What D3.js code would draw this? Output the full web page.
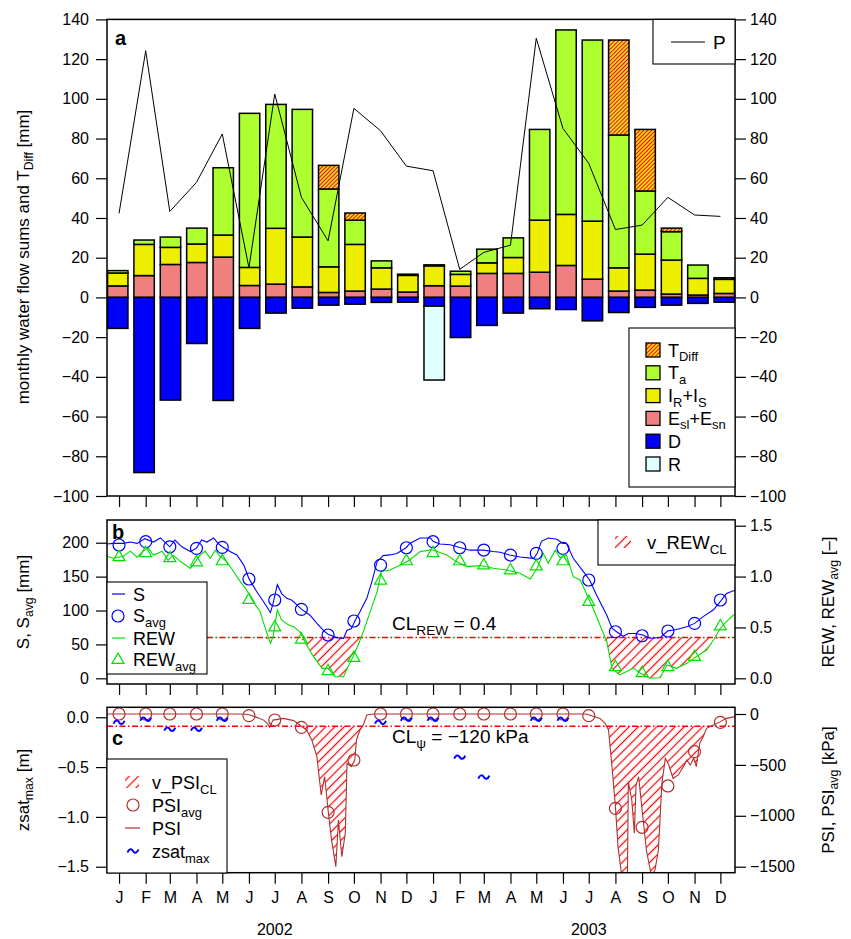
<!DOCTYPE html>
<html>
<head>
<meta charset="utf-8">
<script src="https://cdn.jsdelivr.net/npm/d3@7"></script>
<style>
  body { margin: 0; background: #fff; }
  text { font-family: "Liberation Sans", Arial, sans-serif; }
</style>
</head>
<body>
<script>
// ---- data (monthly, Jan 2002 .. Dec 2003) ----
const monthLabels = ['J','F','M','A','M','J','J','A','S','O','N','D','J','F','M','A','M','J','J','A','S','O','N','D'];
const yearLabels = ['2002', '2003'];

// panel a, mm per month
const evap      = [5.8, 11, 16.6, 17.6, 20.3, 6, 6.7, 5.3, 2.5, 3.2, 4.2, 2.7, 5.9, 5.7, 12.1, 12.1, 12.7, 16.1, 9.2, 3.2, 3.7, 1.7, 1.2, 2];
const intercept = [6.5, 15.7, 8.6, 9.3, 11.1, 9.1, 28.1, 25.1, 12.9, 23.5, 10.7, 8.4, 10, 5.9, 5.3, 8, 26.2, 25.7, 29.2, 11.7, 18.1, 17.1, 8.4, 7.1];
const transp    = [1.2, 2.2, 5.2, 8, 33.9, 77.6, 62.4, 64.3, 39.2, 12.2, 3.5, 0.6, 0.5, 1.6, 6.9, 9.9, 45.7, 92.9, 91.2, 66.9, 31.8, 14.3, 6.7, 0.8];
const tDiff     = [0, 0, 0, 0, 0, 0, 0, 0, 11.9, 3.6, 0, 0, 0, 0, 0, 0, 0, 0, 0, 47.8, 31, 1.8, 0, 0];
const drainage  = [15.6, 88.2, 51.7, 23.2, 51.9, 15.6, 7.9, 5.4, 3.9, 3.4, 2.5, 2.4, 4.4, 20.2, 14.1, 7.9, 5.7, 6.1, 11.8, 7.6, 5, 3.9, 3, 2.4];
const runoff    = [0, 0, 0, 0, 0, 0, 0, 0, 0, 0, 0, 0, 37.2, 0, 0, 0, 0, 0, 0, 0, 0, 0, 0, 0];
const precip    = [42.3, 124.2, 43.3, 57.9, 82.3, 14.9, 102.4, 50.4, 28.5, 95.2, 83.9, 66.1, 63.8, 14.1, 22.7, 26.3, 130.5, 85.1, 67.5, 34.2, 36.4, 50.4, 41.5, 40.8];

// panel b, monthly averages
const sAvg   = [196.6, 201.5, 194, 191.7, 193.2, 146.5, 115.5, 101.7, 63.9, 84.5, 167, 192.6, 201.5, 192.6, 189.2, 181.8, 184.3, 191.7, 145, 68.7, 62.8, 69.8, 81, 115.5];
const rewAvg = [1.19, 1.23, 1.18, 1.14, 1.15, 0.77, 0.5, 0.38, 0.07, 0.2, 0.96, 1.15, 1.23, 1.15, 1.11, 1.06, 1.1, 1.15, 0.75, 0.11, 0.05, 0.11, 0.21, 0.51];
const rewLimit = 0.4;

// panel b, daily series as [day since 2002-01-01, value]
const sLine = [[0,198],[7,199],[19,199],[27,201],[35,199],[44,206],[54,201],[62,207],[73,194],[79,204],[87,194],[97,187],[104,192],[110,204],[116,201],[124,207],[129,199],[134,194],[143,187],[151,182],[159,167],[165,147],[174,128],[182,113],[190,97],[193,110],[198,138],[203,125],[209,118],[215,115],[221,108],[226,102],[236,93],[244,81],[252,70],[257,65],[267,60],[275,59],[279,71],[284,73],[288,84],[294,98],[302,118],[308,143],[314,172],[321,181],[329,182],[337,184],[348,193],[352,199],[364,207],[376,207],[379,202],[387,198],[399,197],[410,193],[422,189],[437,189],[449,187],[457,186],[468,182],[480,179],[496,177],[500,184],[505,202],[513,207],[523,205],[530,199],[534,199],[542,177],[554,157],[561,145],[569,123],[581,93],[587,74],[592,69],[600,62],[606,66],[614,66],[623,64],[631,59],[643,60],[652,70],[662,72],[674,76],[683,81],[693,91],[705,101],[714,115],[720,125],[730,130]];
const rewLine = [[0,1.2],[7,1.18],[19,1.2],[27,1.25],[35,1.19],[42,1.25],[48,1.28],[54,1.21],[64,1.25],[71,1.16],[77,1.21],[85,1.15],[97,1.08],[108,1.21],[114,1.25],[120,1.18],[126,1.26],[131,1.2],[139,1.15],[147,1.05],[155,0.95],[162,0.87],[170,0.75],[178,0.655],[184,0.49],[190,0.344],[193,0.41],[198,0.672],[203,0.573],[211,0.524],[217,0.508],[224,0.459],[232,0.327],[240,0.213],[250,0.098],[257,0.098],[265,0.016],[275,0.016],[281,0.131],[286,0.213],[292,0.327],[298,0.459],[306,0.655],[314,0.852],[319,1.049],[329,1.065],[341,1.114],[352,1.163],[364,1.245],[376,1.261],[379,1.261],[395,1.212],[406,1.147],[418,1.098],[434,1.108],[449,1.081],[465,1.065],[480,1.032],[492,0.977],[500,1.081],[507,1.228],[513,1.131],[521,1.261],[527,1.18],[534,1.212],[542,0.999],[550,0.966],[558,0.819],[565,0.688],[573,0.524],[581,0.36],[587,0.098],[596,0.033],[604,0.066],[612,0.098],[620,0.049],[631,0],[643,0.006],[651,0.131],[662,0.098],[674,0.147],[685,0.213],[697,0.278],[705,0.377],[713,0.492],[720,0.557],[729,0.629]];

// panel c
const psiAvg = [0, 0, 0, 0, 0, -16, -59, -131, -966, -452, 0, 0, 0, 0, 0, 0, 0, 0, -16, -927, -1113, -707, -370, -82];
const zsatMax = [-0.05, -0.02, -0.12, -0.12, -0.02, null, null, null, null, null, -0.05, -0.02, -0.02, -0.40, -0.60, null, -0.02, -0.02, null, null, null, null, null, null];
const psiLimit = -120;
const psiLine = [[0,0],[150,0],[162,-3],[166,-10],[174,-33],[182,-60],[187,-100],[189,-131],[193,-60],[205,-43],[217,-65],[224,-108],[232,-157],[238,-255],[244,-419],[249,-796],[253,-616],[257,-943],[261,-1238],[266,-1500],[269,-1041],[273,-1402],[277,-1172],[279,-485],[284,-517],[288,-452],[290,-255],[294,-157],[298,-108],[302,-10],[310,0],[557,0],[573,-43],[579,-92],[583,-157],[587,-517],[591,-910],[594,-1303],[598,-1565],[602,-1600],[605,-1565],[606,-665],[610,-845],[613,-1172],[615,-698],[618,-616],[622,-943],[627,-1336],[633,-1600],[637,-1532],[641,-1336],[645,-681],[649,-435],[653,-501],[658,-632],[664,-599],[670,-517],[674,-452],[678,-501],[682,-435],[685,-517],[689,-288],[693,-223],[697,-141],[705,-108],[713,-75],[720,-43],[730,-26]];

// ---- setup ----
const svg = d3.select('body').append('svg')
  .attr('width', 851)
  .attr('height', 939);

const L = 107, R = 735;
const day = d => new Date(Date.UTC(2002, 0, 1) + d * 864e5);
const mid = i => new Date(Date.UTC(2002, i, 15));
const mids = d3.range(24).map(mid);

const x = d3.scaleUtc()
  .domain([Date.UTC(2002, 0, 1), Date.UTC(2004, 0, 1)])
  .range([L, R]);
const xb = d3.scaleBand()
  .domain(d3.range(24))
  .range([L, R])
  .paddingInner(0.226)
  .paddingOuter(0.02);

const ya = d3.scaleLinear().domain([-100, 140]).range([496, 19.4]);
const yS = d3.scaleLinear().domain([-8.4, 233.5]).range([684, 520]);
const yR = d3.scaleLinear().domain([-0.056, 1.556]).range([684, 520]);
const yZ = d3.scaleLinear().domain([-1.56, 0.1]).range([872.7, 707.3]);
const yP = d3.scaleLinear().domain([-1559, 65.8]).range([872.7, 707.3]);

const defs = svg.append('defs');
function hatch(id, size, width, bg) {
  const p = defs.append('pattern')
    .attr('id', id)
    .attr('patternUnits', 'userSpaceOnUse')
    .attr('width', size).attr('height', size)
    .attr('patternTransform', 'rotate(45)');
  if (bg) p.append('rect').attr('width', size).attr('height', size).attr('fill', bg);
  p.append('line')
    .attr('x1', size / 2).attr('y1', 0).attr('x2', size / 2).attr('y2', size)
    .attr('stroke', '#ff0000').attr('stroke-width', width);
}
hatch('hatchT', 2.8, 1, '#e8e020');
hatch('hatchR', 6.5, 1.2);

function clip(id, y0, y1) {
  defs.append('clipPath').attr('id', id)
    .append('rect').attr('x', L).attr('y', y0).attr('width', R - L).attr('height', y1 - y0);
}
clip('clipB', 520, 684);
clip('clipC', 707.3, 872.7);

// tilde marker for zsat_max
const tilde = 'M-5.5,1.5 C-4,-2.5 -1.5,-2.5 0,0 S4,2.5 5.5,-1.5';

// text with subscripts: parts beginning with '_' are subscript
function rich(sel, parts, size) {
  let sub = false;
  const shift = size * 0.25;
  parts.forEach(p => {
    const isSub = p.startsWith('_');
    const t = sel.append('tspan').text(isSub ? p.slice(1) : p);
    if (isSub) t.attr('font-size', size * 0.72);
    if (isSub && !sub) t.attr('dy', shift);
    if (!isSub && sub) t.attr('dy', -shift);
    sub = isSub;
  });
  return sel;
}
function label(px, py, parts, size, anchor) {
  const t = svg.append('text')
    .attr('x', px).attr('y', py)
    .attr('font-size', size)
    .attr('text-anchor', anchor || 'start');
  return rich(t, parts, size);
}

function styleAxis(g, size) {
  g.select('.domain').remove();
  g.selectAll('line').attr('stroke', '#000').attr('stroke-width', 1.2);
  g.selectAll('text').attr('font-size', size || 16).attr('fill', '#000')
    .style('font-family', '"Liberation Sans", Arial, sans-serif');
}
function yAxes(yl, vl, fl, yr, vr, fr) {
  svg.append('g').attr('transform', `translate(${L},0)`)
    .call(d3.axisLeft(yl).tickValues(vl).tickFormat(fl).tickSize(11).tickPadding(7))
    .call(styleAxis);
  svg.append('g').attr('transform', `translate(${R},0)`)
    .call(d3.axisRight(yr).tickValues(vr).tickFormat(fr).tickSize(11).tickPadding(4))
    .call(styleAxis);
}
function xTicks(y0, labels) {
  svg.append('g').attr('transform', `translate(0,${y0})`)
    .call(d3.axisBottom(x).tickValues(mids)
      .tickFormat((d, i) => labels ? monthLabels[i] : '')
      .tickSize(11).tickPadding(8))
    .call(styleAxis);
}
function frame(y0, y1) {
  svg.append('rect')
    .attr('x', L).attr('y', y0).attr('width', R - L).attr('height', y1 - y0)
    .attr('fill', 'none').attr('stroke', '#000').attr('stroke-width', 1.5);
}
function box(x0, y0, x1, y1) {
  svg.append('rect')
    .attr('x', x0).attr('y', y0).attr('width', x1 - x0).attr('height', y1 - y0)
    .attr('fill', '#fff').attr('stroke', '#000').attr('stroke-width', 1.1);
}

// ---- panel a: stacked bars + precipitation ----
const keys = ['esl', 'irs', 'ta', 'td', 'd', 'r'];
const fills = { esl: '#f08080', irs: '#eeee00', ta: '#adff2f', td: 'url(#hatchT)', d: '#0000ff', r: '#e0ffff' };
const rows = d3.range(24).map(i => ({
  esl: evap[i], irs: intercept[i], ta: transp[i], td: tDiff[i], d: -drainage[i], r: -runoff[i]
}));
const stacked = d3.stack().keys(keys).offset(d3.stackOffsetDiverging)(rows);

stacked.forEach(series => {
  svg.append('g')
    .selectAll('rect')
    .data(series.map((d, i) => ({ i, y0: d[0], y1: d[1] })).filter(d => d.y1 !== d.y0))
    .enter()
    .append('rect')
    .attr('x', d => xb(d.i))
    .attr('width', xb.bandwidth())
    .attr('y', d => ya(d.y1))
    .attr('height', d => ya(d.y0) - ya(d.y1))
    .attr('fill', fills[series.key])
    .attr('stroke', '#000')
    .attr('stroke-width', 1.5);
});

svg.append('path')
  .datum(precip)
  .attr('d', d3.line().x((d, i) => x(mid(i))).y(d => ya(d)))
  .attr('fill', 'none')
  .attr('stroke', '#000')
  .attr('stroke-width', 1);

frame(19.4, 496);
yAxes(ya, d3.range(-100, 141, 20), d3.format('d'), ya, d3.range(-100, 141, 20), d3.format('d'));
xTicks(496, false);

svg.append('text').attr('x', 115).attr('y', 45)
  .attr('font-size', 20).attr('font-weight', 'bold').text('a');

// legend P
box(653, 19.4, R, 64);
svg.append('line').attr('x1', 671).attr('x2', 705).attr('y1', 42).attr('y2', 42)
  .attr('stroke', '#000').attr('stroke-width', 1);
label(713, 49, ['P'], 19);

// legend bars
box(629, 328, R, 487);
const legA = [
  ['td', ['T', '_Diff']],
  ['ta', ['T', '_a']],
  ['irs', ['I', '_R', '+I', '_S']],
  ['esl', ['E', '_sl', '+E', '_sn']],
  ['d', ['D']],
  ['r', ['R']]
];
legA.forEach(([k, parts], j) => {
  const cy = 350 + j * 22.8;
  svg.append('rect').attr('x', 646).attr('y', cy - 7).attr('width', 14).attr('height', 14)
    .attr('fill', fills[k]).attr('stroke', '#000').attr('stroke-width', 1.3);
  label(668, cy + 6.5, parts, 18);
});

// axis titles
function vtitle(px, py, parts) {
  const t = svg.append('text')
    .attr('transform', `translate(${px},${py}) rotate(-90)`)
    .attr('font-size', 17)
    .attr('text-anchor', 'middle');
  rich(t, parts, 17);
}
vtitle(29, 257, ['monthly water flow sums and T', '_Diff', ' [mm]']);

// ---- panel b ----
const gb = svg.append('g').attr('clip-path', 'url(#clipB)');
gb.append('path')
  .datum(rewLine)
  .attr('d', d3.area()
    .x(d => x(day(d[0])))
    .y0(yR(rewLimit))
    .y1(d => yR(Math.min(d[1], rewLimit))))
  .attr('fill', 'url(#hatchR)');
gb.append('line')
  .attr('x1', L).attr('x2', R).attr('y1', yR(rewLimit)).attr('y2', yR(rewLimit))
  .attr('stroke', '#ff0000').attr('stroke-width', 1.5).attr('stroke-dasharray', '6,2.5,1.5,2.5');
gb.append('path')
  .datum(sLine)
  .attr('d', d3.line().x(d => x(day(d[0]))).y(d => yS(d[1])))
  .attr('fill', 'none').attr('stroke', '#0000ff').attr('stroke-width', 1.1);
gb.append('path')
  .datum(rewLine)
  .attr('d', d3.line().x(d => x(day(d[0]))).y(d => yR(d[1])))
  .attr('fill', 'none').attr('stroke', '#00e000').attr('stroke-width', 1.1);
gb.selectAll('circle.savg')
  .data(sAvg)
  .enter()
  .append('circle')
  .attr('cx', (d, i) => x(mid(i)))
  .attr('cy', d => yS(d))
  .attr('r', 6)
  .attr('fill', 'none').attr('stroke', '#0000ff').attr('stroke-width', 1.2);
const tri = d3.symbol(d3.symbolTriangle).size(62);
gb.selectAll('path.ravg')
  .data(rewAvg)
  .enter()
  .append('path')
  .attr('d', tri)
  .attr('transform', (d, i) => `translate(${x(mid(i))},${yR(d)})`)
  .attr('fill', 'none').attr('stroke', '#00e000').attr('stroke-width', 1.2);

label(392, 630, ['CL', '_REW', ' = 0.4'], 19);

frame(520, 684);
yAxes(yS, [0, 50, 100, 150, 200], d3.format('d'), yR, [0, 0.5, 1, 1.5], d3.format('.1f'));
xTicks(684, false);
svg.append('text').attr('x', 112).attr('y', 539)
  .attr('font-size', 20).attr('font-weight', 'bold').text('b');

// legend b left
box(107, 582, 207, 674);
svg.append('line').attr('x1', 112).attr('x2', 125).attr('y1', 594).attr('y2', 594)
  .attr('stroke', '#0000ff').attr('stroke-width', 1.2);
svg.append('circle').attr('cx', 118).attr('cy', 616).attr('r', 6)
  .attr('fill', 'none').attr('stroke', '#0000ff').attr('stroke-width', 1.2);
svg.append('line').attr('x1', 112).attr('x2', 125).attr('y1', 638).attr('y2', 638)
  .attr('stroke', '#00e000').attr('stroke-width', 1.2);
svg.append('path').attr('d', tri).attr('transform', 'translate(118,660)')
  .attr('fill', 'none').attr('stroke', '#00e000').attr('stroke-width', 1.2);
label(133, 601, ['S'], 18);
label(133, 622, ['S', '_avg'], 18);
label(133, 645, ['REW'], 18);
label(133, 666, ['REW', '_avg'], 18);

// legend b right
box(598, 520, R, 565);
svg.append('rect').attr('x', 615).attr('y', 536).attr('width', 16).attr('height', 12)
  .attr('fill', 'url(#hatchR)');
label(647, 549, ['v_REW', '_CL'], 18.5);

vtitle(29, 602, ['S, S', '_avg', ' [mm]']);
vtitle(834, 602, ['REW, REW', '_avg', ' [\u2013]']);

// ---- panel c ----
const gc = svg.append('g').attr('clip-path', 'url(#clipC)');
gc.append('path')
  .datum(psiLine)
  .attr('d', d3.area()
    .x(d => x(day(d[0])))
    .y0(yP(psiLimit))
    .y1(d => yP(Math.min(d[1], psiLimit))))
  .attr('fill', 'url(#hatchR)');
gc.append('line')
  .attr('x1', L).attr('x2', R).attr('y1', yP(psiLimit)).attr('y2', yP(psiLimit))
  .attr('stroke', '#ff0000').attr('stroke-width', 1.5).attr('stroke-dasharray', '6,2.5,1.5,2.5');
gc.append('path')
  .datum(psiLine)
  .attr('d', d3.line().x(d => x(day(d[0]))).y(d => yP(d[1])))
  .attr('fill', 'none').attr('stroke', '#b03030').attr('stroke-width', 1.1);
gc.selectAll('circle.pavg')
  .data(psiAvg)
  .enter()
  .append('circle')
  .attr('cx', (d, i) => x(mid(i)))
  .attr('cy', d => yP(d))
  .attr('r', 6)
  .attr('fill', 'none').attr('stroke', '#b03030').attr('stroke-width', 1.2);
gc.selectAll('path.zsat')
  .data(zsatMax.map((v, i) => ({ v, i })).filter(d => d.v !== null))
  .enter()
  .append('path')
  .attr('d', tilde)
  .attr('transform', d => `translate(${x(mid(d.i))},${yZ(d.v)})`)
  .attr('fill', 'none')
  .attr('stroke', '#0000ff')
  .attr('stroke-width', 2);

label(392, 743, ['CL', '_\u03c8', ' = \u2212120 kPa'], 19);

frame(707.3, 872.7);
yAxes(yZ, [0, -0.5, -1, -1.5], d3.format('.1f'), yP, [0, -500, -1000, -1500], d3.format('d'));
xTicks(872.7, true);
svg.append('text').attr('x', 112).attr('y', 745)
  .attr('font-size', 20).attr('font-weight', 'bold').text('c');

// legend c
box(107, 759, 227, 873);
svg.append('rect').attr('x', 125).attr('y', 776).attr('width', 14).attr('height', 12)
  .attr('fill', 'url(#hatchR)');
svg.append('circle').attr('cx', 133).attr('cy', 805).attr('r', 6)
  .attr('fill', 'none').attr('stroke', '#b03030').attr('stroke-width', 1.2);
svg.append('line').attr('x1', 125).attr('x2', 140).attr('y1', 828).attr('y2', 828)
  .attr('stroke', '#b03030').attr('stroke-width', 1.2);
svg.append('path').attr('d', tilde).attr('transform', 'translate(133,851)')
  .attr('fill', 'none').attr('stroke', '#0000ff').attr('stroke-width', 2);
label(152, 789, ['v_PSI', '_CL'], 18);
label(152, 812, ['PSI', '_avg'], 18);
label(152, 835, ['PSI'], 18);
label(152, 858, ['zsat', '_max'], 18);

vtitle(29, 790, ['zsat', '_max', ' [m]']);
vtitle(834, 790, ['PSI, PSI', '_avg', ' [kPa]']);

// years
svg.selectAll('text.year')
  .data(yearLabels)
  .enter()
  .append('text')
  .attr('x', (d, i) => x(mid(6 + 12 * i)))
  .attr('y', 935)
  .attr('text-anchor', 'middle')
  .attr('font-size', 16)
  .text(d => d);
</script>
</body>
</html>
